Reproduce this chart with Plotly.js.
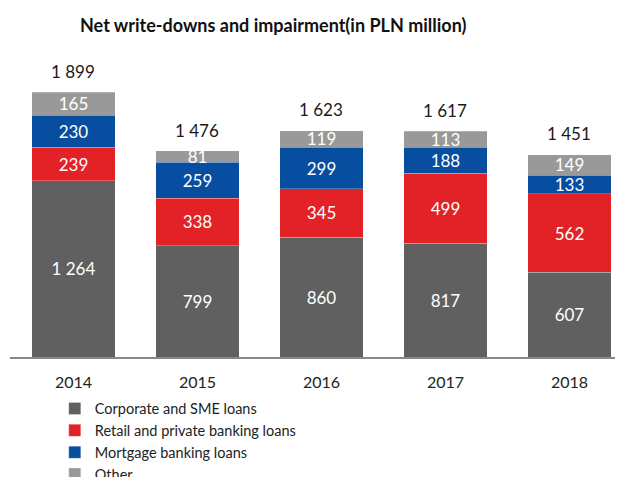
<!DOCTYPE html>
<html><head><meta charset="utf-8">
<script src="https://cdn.plot.ly/plotly-3.0.1.min.js"></script>
<style>html,body{margin:0;padding:0;background:#fff}</style>
</head><body><div id="c" style="width:621px;height:477px"></div>
<script>
const years = ['2014','2015','2016','2017','2018'];
const corporate = [1264, 799, 860, 817, 607];
const retail = [239, 338, 345, 499, 562];
const mortgage = [230, 259, 299, 188, 133];
const other = [165, 81, 119, 113, 149];
const totals = [1899, 1476, 1623, 1617, 1451];
const seriesNames = ['Corporate and SME loans','Retail and private banking loans','Mortgage banking loans','Other'];
const colors = ['#606060','#e32227','#074da0','#999999'];

function fmt(v){ return String(v).replace(/\B(?=(\d{3})+(?!\d))/g,' '); }
const FONT = 'Lato, sans-serif';
const series = [corporate, retail, mortgage, other];
const traces = series.map((vals,i)=>({
  type:'bar', x:years, y:vals, name:seriesNames[i],
  marker:{color:colors[i], line:{color:'rgba(255,255,255,0.5)', width:0.5}},
  text:vals.map(fmt), textposition:'inside', insidetextanchor:'middle', textangle:0,
  textfont:{color:'#ffffff', size:17, family:FONT}, constraintext:'none',
  hoverinfo:'skip', width:0.67
}));
const annotations = years.map((y,j)=>({
  x:j, y:totals[j], xref:'x', yref:'y', text:fmt(totals[j]), showarrow:false,
  yanchor:'middle', yshift:21, font:{size:17, color:'#1a1a1a', family:FONT}
}));

const layout = {
  width:621, height:477, barmode:'stack',
  margin:{l:10, r:6, t:60, b:120, autoexpand:false},
  paper_bgcolor:'#fff', plot_bgcolor:'#fff',
  font:{family:FONT, color:'#1a1a1a'},
  title:{text:'<b>Net write-downs and impairment(in PLN million)</b>', x:0.44, xanchor:'center', y:0.947, yanchor:'middle', font:{size:18, family:FONT, color:'#111'}},
  xaxis:{type:'category', range:[-0.512,4.367], showline:true, linecolor:'#888', linewidth:1.5, ticks:'', ticklabelstandoff:10, tickfont:{size:16, family:FONT, color:'#222'}, showgrid:false, zeroline:false, fixedrange:true, automargin:false},
  yaxis:{range:[0,2129], visible:false, showgrid:false, zeroline:false},
  showlegend:true,
  legend:{orientation:'v', x:0.074, xanchor:'left', yref:'container', y:0.177, yanchor:'top', traceorder:'normal', font:{size:14.5, family:FONT, color:'#222'}, itemwidth:30, tracegroupgap:0, bgcolor:'rgba(0,0,0,0)'},
  annotations:annotations,
  bargap:0.33
};
Plotly.newPlot('c', traces, layout, {displayModeBar:false, staticPlot:true});
</script></body></html>
